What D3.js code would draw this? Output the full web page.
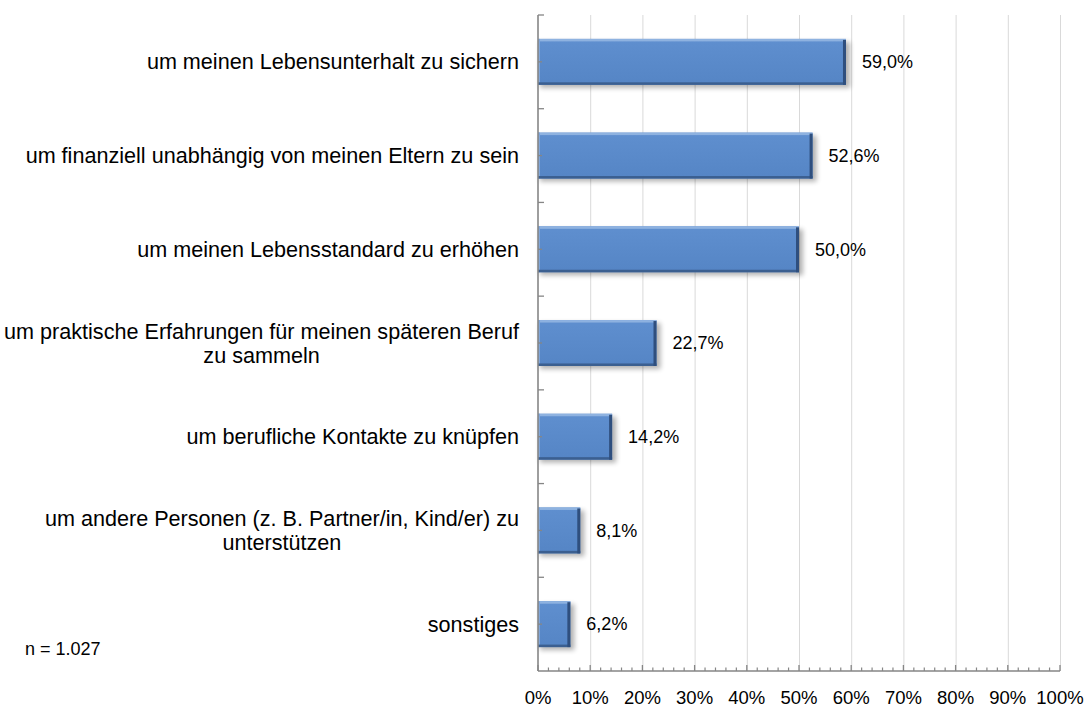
<!DOCTYPE html>
<html>
<head>
<meta charset="utf-8">
<script src="https://cdn.jsdelivr.net/npm/d3@7"></script>
<style>
  html, body { margin: 0; padding: 0; background: #fff; }
  svg { display: block; font-family: "Liberation Sans", Arial, sans-serif; }
</style>
</head>
<body>
<svg id="chart" width="1089" height="707"></svg>
<script>
// Reasons for working while studying (share of respondents, %)
const categories = [
  ["um meinen Lebensunterhalt zu sichern"],
  ["um finanziell unabhängig von meinen Eltern zu sein"],
  ["um meinen Lebensstandard zu erhöhen"],
  ["um praktische Erfahrungen für meinen späteren Beruf", "zu sammeln"],
  ["um berufliche Kontakte zu knüpfen"],
  ["um andere Personen (z. B. Partner/in, Kind/er) zu", "unterstützen"],
  ["sonstiges"]
];
const values = [59.0, 52.6, 50.0, 22.7, 14.2, 8.1, 6.2];
const tickValues = [0, 10, 20, 30, 40, 50, 60, 70, 80, 90, 100];
const tickLabels = ["0%", "10%", "20%", "30%", "40%", "50%", "60%", "70%", "80%", "90%", "100%"];
const sampleNote = "n = 1.027";

const svg = d3.select("#chart");
const plot = { left: 538, right: 1060, top: 15, bottom: 671 };

const keys = categories.map((c, i) => "c" + i);
const x = d3.scaleLinear().domain([0, 100]).range([plot.left, plot.right]);
const y = d3.scaleBand().domain(keys).range([plot.top, plot.bottom])
  .paddingInner(0.51).paddingOuter(0.255);

// definitions: bar gradient and drop shadow
const defs = svg.append("defs");
const grad = defs.append("linearGradient").attr("id", "barFill")
  .attr("x1", 0).attr("y1", 0).attr("x2", 0).attr("y2", 1);
grad.append("stop").attr("offset", "0%").attr("stop-color", "#5f8fcf");
grad.append("stop").attr("offset", "100%").attr("stop-color", "#5585c5");
const shadow = defs.append("filter").attr("id", "shadow")
  .attr("x", "-10%").attr("y", "-30%").attr("width", "130%").attr("height", "170%");
shadow.append("feGaussianBlur").attr("stdDeviation", 2.6);

// vertical gridlines
svg.append("g").selectAll("line")
  .data(tickValues.filter(v => v > 0))
  .join("line")
  .attr("x1", d => x(d) + 0.5).attr("x2", d => x(d) + 0.5)
  .attr("y1", plot.top).attr("y2", plot.bottom)
  .attr("stroke", "#d9d9d9").attr("stroke-width", 1);

// bars
const bars = svg.append("g").selectAll("g.bar")
  .data(values.map((v, i) => ({ key: keys[i], value: v })))
  .join("g").attr("class", "bar");

const bh = y.bandwidth();
bars.append("rect") // soft shadow
  .attr("x", x(0) + 2).attr("y", d => y(d.key) + 3)
  .attr("width", d => x(d.value) - x(0) + 2).attr("height", bh)
  .attr("fill", "#000").attr("opacity", 0.3)
  .attr("filter", "url(#shadow)");
bars.append("rect")
  .attr("x", x(0)).attr("y", d => y(d.key))
  .attr("width", d => x(d.value) - x(0)).attr("height", bh)
  .attr("fill", "url(#barFill)");
// bevel: light top / left edges, dark right / bottom edges
bars.append("rect")
  .attr("x", x(0)).attr("y", d => y(d.key))
  .attr("width", d => x(d.value) - x(0)).attr("height", 2.5)
  .attr("fill", "#8eb2e0");
bars.append("rect")
  .attr("x", x(0)).attr("y", d => y(d.key))
  .attr("width", 2).attr("height", bh)
  .attr("fill", "#7fa6da");
bars.append("rect")
  .attr("x", x(0)).attr("y", d => y(d.key) + bh - 2.5)
  .attr("width", d => x(d.value) - x(0)).attr("height", 2.5)
  .attr("fill", "#3b5f90");
bars.append("rect")
  .attr("x", d => x(d.value) - 3).attr("y", d => y(d.key) + 1)
  .attr("width", 3).attr("height", bh - 1)
  .attr("fill", "#2f4f7e");

// value labels
bars.append("text")
  .attr("x", d => x(d.value) + 16)
  .attr("y", d => y(d.key) + bh / 2)
  .attr("dy", "0.35em")
  .attr("font-size", 18)
  .attr("fill", "#000")
  .text(d => d.value.toFixed(1).replace(".", ",") + "%");

// left (category) axis
const axisColor = "#868686";
const step = y.step();
const gAxisY = svg.append("g");
gAxisY.append("line")
  .attr("x1", plot.left).attr("x2", plot.left)
  .attr("y1", plot.top).attr("y2", plot.bottom)
  .attr("stroke", axisColor).attr("stroke-width", 1.6);
gAxisY.selectAll("line.bound")
  .data(d3.range(keys.length))
  .join("line").attr("class", "bound")
  .attr("x1", plot.left).attr("x2", plot.left + 6)
  .attr("y1", i => plot.top + i * step).attr("y2", i => plot.top + i * step)
  .attr("stroke", axisColor).attr("stroke-width", 1.3);
gAxisY.selectAll("line.mid")
  .data(keys)
  .join("line").attr("class", "mid")
  .attr("x1", plot.left).attr("x2", plot.left + 4)
  .attr("y1", d => y(d) + bh / 2).attr("y2", d => y(d) + bh / 2)
  .attr("stroke", axisColor).attr("stroke-width", 1.3);

// category labels: block right-aligned to the axis, lines centred within it
const labelRight = 519;
const lineGap = 24;
const catFont = 21.6;
const labelGroups = svg.append("g").selectAll("text.cat")
  .data(categories.map((c, i) => ({ lines: c, key: keys[i] })))
  .join("text").attr("class", "cat")
  .attr("font-size", catFont).attr("fill", "#000");
labelGroups.each(function (d) {
  const t = d3.select(this);
  const cy = y(d.key) + bh / 2;
  const n = d.lines.length;
  const spans = d.lines.map((line, j) => t.append("tspan")
    .attr("y", cy + (j - (n - 1) / 2) * lineGap)
    .attr("dy", "0.35em")
    .text(line));
  const widths = spans.map(s => s.node().getComputedTextLength());
  const w = d3.max(widths);
  const cx = labelRight - w / 2;
  spans.forEach(s => s.attr("x", cx).attr("text-anchor", "middle"));
});

// bottom (value) axis with minor ticks every 2 %
const gAxisX = svg.append("g");
gAxisX.append("line")
  .attr("x1", plot.left).attr("x2", plot.right)
  .attr("y1", plot.bottom).attr("y2", plot.bottom)
  .attr("stroke", axisColor).attr("stroke-width", 1.6);
gAxisX.selectAll("line.minor")
  .data(d3.range(0, 101, 2).filter(v => v % 10 !== 0))
  .join("line").attr("class", "minor")
  .attr("x1", d => x(d)).attr("x2", d => x(d))
  .attr("y1", plot.bottom).attr("y2", plot.bottom - 3.5)
  .attr("stroke", axisColor).attr("stroke-width", 1.2);
gAxisX.selectAll("line.major")
  .data(tickValues)
  .join("line").attr("class", "major")
  .attr("x1", d => x(d)).attr("x2", d => x(d))
  .attr("y1", plot.bottom).attr("y2", plot.bottom - 6)
  .attr("stroke", axisColor).attr("stroke-width", 1.3);
gAxisX.selectAll("text")
  .data(tickValues)
  .join("text")
  .attr("x", d => x(d)).attr("y", 704)
  .attr("text-anchor", "middle")
  .attr("font-size", 18.5).attr("fill", "#000")
  .text((d, i) => tickLabels[i]);

// sample size note
svg.append("text")
  .attr("x", 25).attr("y", 655)
  .attr("font-size", 18).attr("fill", "#000")
  .text(sampleNote);
</script>
</body>
</html>
